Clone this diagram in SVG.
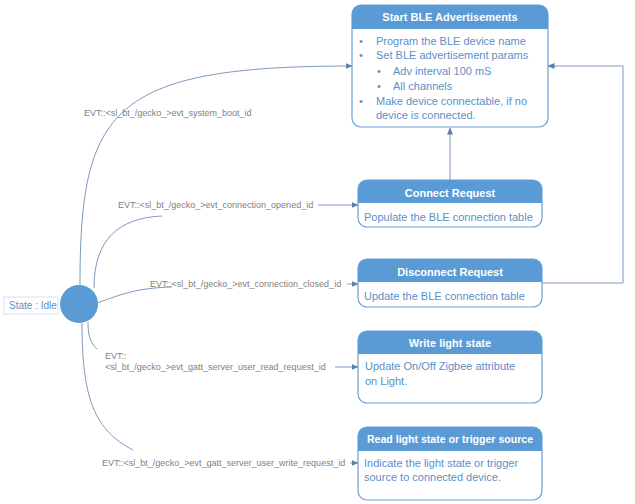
<svg xmlns="http://www.w3.org/2000/svg" width="635" height="504" viewBox="0 0 635 504">
<style>
.box{fill:#ffffff;stroke:#6d9fd3;stroke-width:1.2}
.hdr{fill:#5b9bd5}
.ht{font-family:"Liberation Sans",Arial,sans-serif;font-weight:bold;font-size:11px;fill:#ffffff;text-anchor:middle}
.bt{font-family:"Liberation Sans",Arial,sans-serif;font-size:11px;fill:#5b8fc8}
.lbl{font-family:"Liberation Sans",Arial,sans-serif;font-size:9px;fill:#7f7f7f}
.con{fill:none;stroke:#6f8db2;stroke-width:0.9}
.st{font-family:"Liberation Sans",Arial,sans-serif;font-size:10px;fill:#5b8fc8}
</style>
<defs>
<marker id="arr" markerWidth="7" markerHeight="6" refX="6.5" refY="3" orient="auto" markerUnits="userSpaceOnUse">
<path d="M0,0 L7,3 L0,6 Z" fill="#5b80ad"/>
</marker>
</defs>
<rect width="635" height="504" fill="#ffffff"/>

<g id="connectors">
<path class="con" d="M80,285 C80,110 110,66 352,66" marker-end="url(#arr)"/>
<path class="con" d="M94,288 C94,240 118,218 162,216"/>
<path class="con" d="M318,205 L358,205" marker-end="url(#arr)"/>
<path class="con" d="M97,303 C120,295 135,288 172,287"/>
<path class="con" d="M347,284 L358,284" marker-end="url(#arr)"/>
<path class="con" d="M88,322 C88,335 90,343 97,349"/>
<path class="con" d="M335,367 L358,367" marker-end="url(#arr)"/>
<path class="con" d="M82,323 C82,400 95,430 133,450"/>
<path class="con" d="M350,463 L358,463" marker-end="url(#arr)"/>
<path class="con" d="M450,180 L450,128" marker-end="url(#arr)"/>
<path class="con" d="M542,283 L623,283 L623,66 L548,66" marker-end="url(#arr)"/>
<text class="lbl" x="84" y="116">EVT::&lt;sl_bt_/gecko_&gt;evt_system_boot_id</text>
<text class="lbl" x="118" y="208">EVT::&lt;sl_bt_/gecko_&gt;evt_connection_opened_id</text>
<text class="lbl" x="150" y="287">EVT::&lt;sl_bt_/gecko_&gt;evt_connection_closed_id</text>
<text class="lbl" x="105" y="359">EVT::</text>
<text class="lbl" x="105" y="370">&lt;sl_bt_/gecko_&gt;evt_gatt_server_user_read_request_id</text>
<text class="lbl" x="102" y="466">EVT::&lt;sl_bt_/gecko_&gt;evt_gatt_server_user_write_request_id</text>
</g>

<g id="idle">
<rect x="4" y="297" width="54" height="17" fill="#ffffff" stroke="#d3dde8" stroke-width="0.8"/>
<text class="st" x="9" y="309">State : Idle</text>
<circle cx="79" cy="304" r="19" fill="#5b9bd5"/>
</g>

<g id="start-ble">
<rect class="box" x="352" y="5" width="196" height="122" rx="9"/>
<path class="hdr" d="M352,29 L352,14 A9,9 0 0 1 361,5 L539,5 A9,9 0 0 1 548,14 L548,29 Z"/>
<text class="ht" x="450" y="21">Start BLE Advertisements</text>
<g class="bt">
<text x="359" y="45">•</text><text x="376" y="45">Program the BLE device name</text>
<text x="359" y="59">•</text><text x="376" y="59">Set BLE advertisement params</text>
<text x="377" y="75">•</text><text x="393" y="75">Adv interval 100 mS</text>
<text x="377" y="90">•</text><text x="393" y="90">All channels</text>
<text x="359" y="105">•</text><text x="376" y="105">Make device connectable, if no</text>
<text x="376" y="119">device is connected.</text>
</g>
</g>

<g id="connect-request">
<rect class="box" x="358" y="180" width="184" height="47" rx="9"/>
<path class="hdr" d="M358,203 L358,189 A9,9 0 0 1 367,180 L533,180 A9,9 0 0 1 542,189 L542,203 Z"/>
<text class="ht" x="450" y="197">Connect Request</text>
<text class="bt" x="364" y="221">Populate the BLE connection table</text>
</g>

<g id="disconnect-request">
<rect class="box" x="358" y="259" width="184" height="48" rx="9"/>
<path class="hdr" d="M358,282 L358,268 A9,9 0 0 1 367,259 L533,259 A9,9 0 0 1 542,268 L542,282 Z"/>
<text class="ht" x="450" y="276">Disconnect Request</text>
<text class="bt" x="364" y="300">Update the BLE connection table</text>
</g>

<g id="write-light">
<rect class="box" x="358" y="331" width="184" height="72" rx="9"/>
<path class="hdr" d="M358,354 L358,340 A9,9 0 0 1 367,331 L533,331 A9,9 0 0 1 542,340 L542,354 Z"/>
<text class="ht" x="450" y="347">Write light state</text>
<text class="bt" x="365" y="370">Update On/Off Zigbee attribute</text>
<text class="bt" x="365" y="385">on Light.</text>
</g>

<g id="read-light">
<rect class="box" x="358" y="427" width="184" height="73" rx="9"/>
<path class="hdr" d="M358,451 L358,436 A9,9 0 0 1 367,427 L533,427 A9,9 0 0 1 542,436 L542,451 Z"/>
<text class="ht" x="450" y="443" textLength="166" lengthAdjust="spacingAndGlyphs">Read light state or trigger source</text>
<text class="bt" x="364" y="467">Indicate the light state or trigger</text>
<text class="bt" x="364" y="481">source to connected device.</text>
</g>
</svg>
